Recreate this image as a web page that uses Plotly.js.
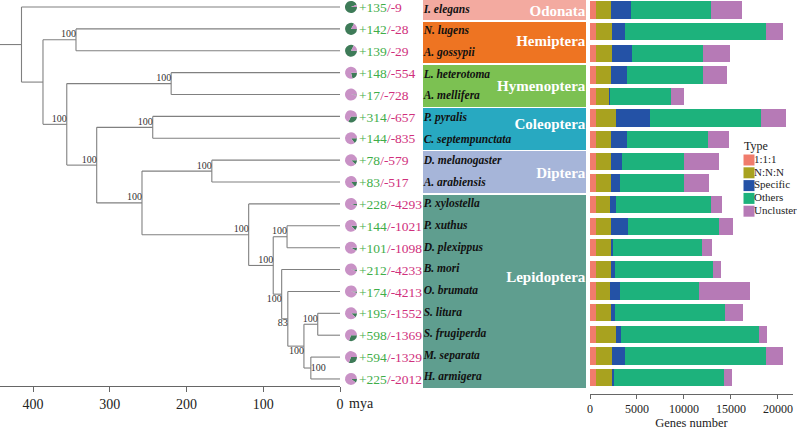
<!DOCTYPE html>
<html>
<head>
<meta charset="utf-8">
<script src="https://cdn.plot.ly/plotly-3.0.1.min.js"></script>
<style>html,body{margin:0;padding:0;background:#fff;}#chart{width:800px;height:430px;}</style>
</head>
<body>
<div id="chart"></div>
<script>
// ---------------- DATA ----------------
const species = ['I. elegans','N. lugens','A. gossypii','L. heterotoma','A. mellifera','P. pyralis','C. septempunctata','D. melanogaster','A. arabiensis','P. xylostella','P. xuthus','D. plexippus','B. mori','O. brumata','S. litura','S. frugiperda','M. separata','H. armigera'];
const gain = [135,142,139,148,17,314,144,78,83,228,144,101,212,174,195,598,594,225];
const loss = [9,28,29,554,728,657,835,579,517,4293,1021,1098,4233,4213,1552,1369,1329,2012];

const orders = ['Odonata','Hemiptera','Hymenoptera','Coleoptera','Diptera','Lepidoptera'];
const orderSize = [1,2,2,2,2,9];

const typeNames = ['1:1:1','N:N:N','Specific','Others','Uncluster'];
const one1 = [600,600,600,600,600,600,600,600,600,600,600,600,600,600,600,600,600,600];
const nnn = [1600,1770,1700,1600,1420,2160,1600,1630,1600,1560,1630,1630,1600,1560,1630,2160,1770,1770];
const specific = [2160,1350,2130,1770,140,3620,1770,1170,960,570,1840,180,430,990,390,570,1350,140];
const others = [8480,15000,7550,8090,6450,11810,8550,6560,6880,10110,9610,9470,10430,8400,11740,14610,15000,11770];
const uncluster = [3300,1840,2940,2520,1350,2620,2270,3790,2620,1240,1490,1140,920,5500,1880,850,1840,780];

// tree: internal nodes (age in mya), parents, bootstrap support; tips' parents
const nodeIds = ['n0','n1','n2','n3','n4','n5','n6','n7','n8','n9','n10','n11','n12','n13','n14','n15','n16'];
const nodeAge = [415,387,344,356,220,317,244,258,167,119,87,69,76,68,47,29,38];
const nodeParent = [null,'n0','n1','n1','n3','n3','n5','n5','n7','n7','n9','n10','n10','n12','n13','n14','n14'];
const nodeSupport = [null,null,100,100,100,100,100,100,100,100,100,100,100,83,100,100,100];
const tipParent = ['n0','n2','n2','n4','n4','n6','n6','n8','n8','n9','n11','n11','n12','n13','n15','n15','n16','n16'];
const treeTicks = [400,300,200,100,0];
const barTicks = [0,5000,10000,15000,20000];

// ---------------- STYLE / LAYOUT ----------------
const W = 800, H = 430;
const SERIF = 'Liberation Serif';
const typeColors = ['#f07c6c','#a8a21f','#2452a6','#1db27c','#b67ab6'];
const orderColors = ['#f3aaa0','#ee7422','#7cc152','#28a9c1','#a6b5d9','#5f9e8f'];
const pieColors = ['#3e7b58','#c992c6'];
const gainColor = '#3fae49', lossColor = '#d0307c';
const labelPlace = {n12:'bottom left', n13:'bottom left', n14:'bottom left', n16:'middle right'};
const orderLabelShift = [0.1,0,0.05,-0.15,0.1,-0.6];

// tree panel geometry (px)
const treeX0 = 0, treeX1 = 340, treeRangeMax = 443;
const treeRowTop = 7, treeRowStep = 21.88, treeAxisPx = 386;
// bar panel geometry (px)
const barX0 = 590, barX1 = 793, barRangeMax = 21600;
const barRowTop = 10, barRowStep = 21.62, barAxisPx = 394;

function yRange(top, step, axisPx){ return [1 + (axisPx - top)/step, 1 - top/step]; }

// ---------- tree computation ----------
const idx = {}; nodeIds.forEach((id,i)=>idx[id]=i);
const children = nodeIds.map(()=>[]);
nodeParent.forEach((p,i)=>{ if(p) children[idx[p]].push({type:'node', i}); });
tipParent.forEach((p,i)=>children[idx[p]].push({type:'tip', i}));
const nodeY = new Array(nodeIds.length).fill(null);
function yOf(c){ return c.type==='tip' ? c.i+1 : calcY(c.i); }
function calcY(i){
  if(nodeY[i]!==null) return nodeY[i];
  const ys = children[i].map(yOf);
  nodeY[i] = ys.reduce((a,b)=>a+b,0)/ys.length;
  return nodeY[i];
}
nodeIds.forEach((_,i)=>calcY(i));
const lx = [], ly = [];
function seg(x0,y0,x1,y1){ lx.push(x0,x1,null); ly.push(y0,y1,null); }
tipParent.forEach((p,i)=>seg(nodeAge[idx[p]], i+1, 0, i+1));
nodeIds.forEach((id,i)=>{
  if(nodeParent[i]) seg(nodeAge[idx[nodeParent[i]]], nodeY[i], nodeAge[i], nodeY[i]);
  else seg(treeRangeMax, nodeY[i], nodeAge[i], nodeY[i]);
  const ys = children[i].map(yOf);
  seg(nodeAge[i], Math.min(...ys), nodeAge[i], Math.max(...ys));
});

const traces = [];
traces.push({type:'scatter', mode:'lines', x:lx, y:ly, xaxis:'x', yaxis:'y',
  line:{color:'#808080', width:1.1}, hoverinfo:'skip', showlegend:false});

// bootstrap labels
const bsX=[], bsY=[], bsT=[], bsP=[];
nodeIds.forEach((id,i)=>{ if(nodeSupport[i]!==null){ bsX.push(nodeAge[i]); bsY.push(nodeY[i]); bsT.push(String(nodeSupport[i])); bsP.push(labelPlace[id]||'top left'); }});
traces.push({type:'scatter', mode:'text', x:bsX, y:bsY, text:bsT, textposition:bsP, xaxis:'x', yaxis:'y',
  textfont:{family:SERIF, size:10, color:'#333'}, hoverinfo:'skip', showlegend:false, cliponaxis:false});

// gain / loss text
const rows = species.map((_,i)=>i+1);
traces.push({type:'scatter', mode:'text', x:rows.map(()=>19), y:rows.map(r=>r+0.08),
  text: gain.map((g,i)=>`<span style="color:${gainColor}">+${g}</span><span style="color:${lossColor}">/-${loss[i]}</span>`),
  textposition:'middle right', xaxis:'x4', yaxis:'y', cliponaxis:false,
  textfont:{family:SERIF, size:13.5}, hoverinfo:'skip', showlegend:false});

// order panels
let start = 1; const pY=[], pW=[];
orderSize.forEach(s=>{ pY.push(start + (s-1)/2); pW.push(s); start += s; });
traces.push({type:'bar', orientation:'h', x:orders.map(()=>1), y:pY, width:pW, base:0,
  xaxis:'x3', yaxis:'y2', marker:{color:orderColors, line:{color:'#ffffff', width:1.5}},
  hoverinfo:'skip', showlegend:false});
traces.push({type:'scatter', mode:'text', x:species.map(()=>0.01), y:rows,
  text:species.map(s=>`<b><i>${s}</i></b>`), textposition:'middle right', xaxis:'x3', yaxis:'y2',
  textfont:{family:SERIF, size:11.5, color:'#111'}, hoverinfo:'skip', showlegend:false, cliponaxis:false});
traces.push({type:'scatter', mode:'text', x:orders.map(()=>0.99), y:pY.map((v,i)=>v+orderLabelShift[i]),
  text:orders.map(o=>`<b>${o}</b>`), textposition:'middle left', xaxis:'x3', yaxis:'y2',
  textfont:{family:SERIF, size:15, color:'#ffffff'}, hoverinfo:'skip', showlegend:false, cliponaxis:false});

// stacked bars
[one1, nnn, specific, others, uncluster].forEach((vals,k)=>{
  traces.push({type:'bar', orientation:'h', name:typeNames[k], x:vals, y:rows, width:0.8,
    xaxis:'x2', yaxis:'y2', marker:{color:typeColors[k], line:{width:0}}, showlegend:false});
});

// custom legend (Type)
const legTop = 160, legStep = 12.8, legX = 749;
traces.push({type:'scatter', mode:'markers', x:typeNames.map(()=>legX), y:typeNames.map((_,i)=>legTop+i*legStep),
  marker:{symbol:'square', size:11, color:typeColors}, xaxis:'x5', yaxis:'y5', hoverinfo:'skip', showlegend:false, cliponaxis:false});
traces.push({type:'scatter', mode:'text', x:typeNames.map(()=>754), y:typeNames.map((_,i)=>legTop+i*legStep),
  text:typeNames, textposition:'middle right', textfont:{family:SERIF, size:11, color:'#222'},
  xaxis:'x5', yaxis:'y5', hoverinfo:'skip', showlegend:false, cliponaxis:false});

// pies: gain vs loss
const pieCx = 351, pieR = 6;
rows.forEach((r,i)=>{
  const py = treeRowTop + (r-1)*treeRowStep;
  traces.push({type:'pie', values:[gain[i], loss[i]], labels:['gain','loss'], sort:false,
    direction:'counterclockwise', rotation:90, textinfo:'none', hoverinfo:'skip', showlegend:false,
    marker:{colors:pieColors, line:{width:0}},
    domain:{x:[(pieCx-pieR)/W, (pieCx+pieR)/W], y:[1-(py+pieR)/H, 1-(py-pieR)/H]}});
});

const tickFont = {family:SERIF, size:14, color:'#222'};
const layout = {
  width:W, height:H, margin:{l:0,r:0,t:0,b:0},
  paper_bgcolor:'#ffffff', plot_bgcolor:'rgba(0,0,0,0)',
  font:{family:SERIF},
  barmode:'stack', bargap:0, showlegend:false,
  xaxis:{domain:[treeX0/W, treeX1/W], range:[treeRangeMax, 0], anchor:'y', tickvals:treeTicks,
    ticktext:treeTicks.map(String),
    showline:true, linecolor:'#666', linewidth:1, ticks:'outside', ticklen:5, tickcolor:'#666',
    showgrid:false, zeroline:false, tickfont:tickFont, fixedrange:true},
  yaxis:{domain:[(H-treeAxisPx)/H, 1], range:yRange(treeRowTop, treeRowStep, treeAxisPx), anchor:'x',
    visible:false, fixedrange:true},
  xaxis2:{domain:[barX0/W, barX1/W], range:[0, barRangeMax], anchor:'y2', tickvals:barTicks,
    ticktext:barTicks.map(String),
    showline:true, linecolor:'#666', linewidth:1, ticks:'outside', ticklen:4, tickcolor:'#666',
    showgrid:false, zeroline:false, tickfont:{family:SERIF, size:12, color:'#222'},
    title:{text:'Genes number', font:{family:SERIF, size:12.5, color:'#222'}, standoff:5}, fixedrange:true},
  yaxis2:{domain:[(H-barAxisPx)/H, 1], range:yRange(barRowTop, barRowStep, barAxisPx), anchor:'x2',
    visible:false, fixedrange:true},
  xaxis3:{domain:[422/W, 587/W], range:[0,1], anchor:'y2', visible:false, fixedrange:true},
  xaxis4:{domain:[340/W, 422/W], range:[0,82], anchor:'y', visible:false, fixedrange:true},
  xaxis5:{domain:[0,1], range:[0,W], anchor:'y5', visible:false, fixedrange:true},
  yaxis5:{domain:[0,1], range:[H,0], anchor:'x5', visible:false, fixedrange:true},
  annotations:[
    {text:'mya', xref:'paper', yref:'paper', x:347/W, y:1-403/H, xanchor:'left', yanchor:'middle',
     showarrow:false, font:{family:SERIF, size:14, color:'#222'}},
    {text:'Type', xref:'paper', yref:'paper', x:742/W, y:1-146/H, xanchor:'left', yanchor:'middle',
     showarrow:false, font:{family:SERIF, size:12, color:'#222'}}
  ]
};
Plotly.newPlot('chart', traces, layout, {displayModeBar:false, staticPlot:true});
</script>
</body>
</html>
